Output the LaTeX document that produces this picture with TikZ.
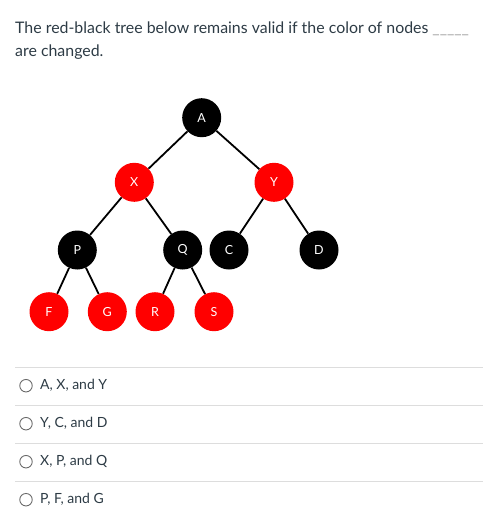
\documentclass[tikz,border=0pt]{standalone}
\usepackage{fontspec}
\setmainfont{Lato}
\usepackage{xcolor}
\usetikzlibrary{positioning}

\definecolor{inktext}{HTML}{2D3B45}
\definecolor{rbred}{HTML}{FF0000}
\definecolor{rulegray}{HTML}{DDDDDD}
\definecolor{radiogray}{HTML}{6B6B6B}

\begin{document}
\begin{tikzpicture}[
			x=1pt, y=-1pt,
			every node/.style={font=\fontsize{12.5}{14}\selectfont},
			question/.style={anchor=base west, inner sep=0pt, text=inktext,
				font=\fontsize{15.9}{18}\selectfont},
			option/.style={anchor=base west, inner sep=0pt, text=inktext,
				font=\fontsize{14}{16}\selectfont},
			rbnode/.style={circle, minimum size=39pt, inner sep=0pt, text=white},
			blacknode/.style={rbnode, fill=black},
			rednode/.style={rbnode, fill=rbred},
			radio/.style={circle, draw=radiogray, line width=0.9pt,
				minimum size=12.5pt, inner sep=0pt},
			edge/.style={line width=1.8pt, black},
			sep/.style={line width=1pt, rulegray}
			]
			
			\useasboundingbox (0,0) rectangle (500,528);
			
			% ---- Question ----
			\node[question] (q1) at (15,33)
			{The red-black tree below remains valid if the color of nodes \textcolor{gray!70}{\_\_\_\_\_}};
			\node[question] (q2) at (15,56.7) {are changed.};
			
			% ---- Tree ----
			\node[blacknode] (A) at (201.7,117.7) {A};
			\node[rednode] (X) at (134.3,182.3) {X};
			\node[rednode] (Y) at (274,182.3) {Y};
			\node[blacknode] (P) at (77.3,250) {P};
			\node[blacknode] (Q) at (182.7,250) {Q};
			\node[blacknode] (C) at (229,250) {C};
			\node[blacknode] (D) at (319,250) {D};
			\node[rednode] (F) at (49,311.7) {F};
			\node[rednode] (G) at (107.3,311.7) {G};
			\node[rednode] (R) at (155,311.7) {R};
			\node[rednode] (S) at (214,311.7) {S};
			
			% ---- Edges ----
			\draw[edge] (A) -- (X);
			\draw[edge] (A) -- (Y);
			\draw[edge] (X) -- (P);
			\draw[edge] (X) -- (Q);
			\draw[edge] (Y) -- (C);
			\draw[edge] (Y) -- (D);
			\draw[edge] (P) -- (F);
			\draw[edge] (P) -- (G);
			\draw[edge] (Q) -- (R);
			\draw[edge] (Q) -- (S);
			
			% ---- Answer options ----
			\foreach \y in {367.3,405.3,443.3,481.3}
			\draw[sep] (15,\y) -- (483,\y);
			
			\node[radio] (r1) at (26,385.7) {};
			\node[radio] (r2) at (26,423.7) {};
			\node[radio] (r3) at (26,461.7) {};
			\node[radio] (r4) at (26,499.7) {};
			
			\node[option] (o1) at (40,389.3) {A, X, and Y};
			\node[option] (o2) at (40,427.3) {Y, C, and D};
			\node[option] (o3) at (40,465.3) {X, P, and Q};
			\node[option] (o4) at (40,503.3) {P, F, and G};
			
		\end{tikzpicture}
\end{document}
